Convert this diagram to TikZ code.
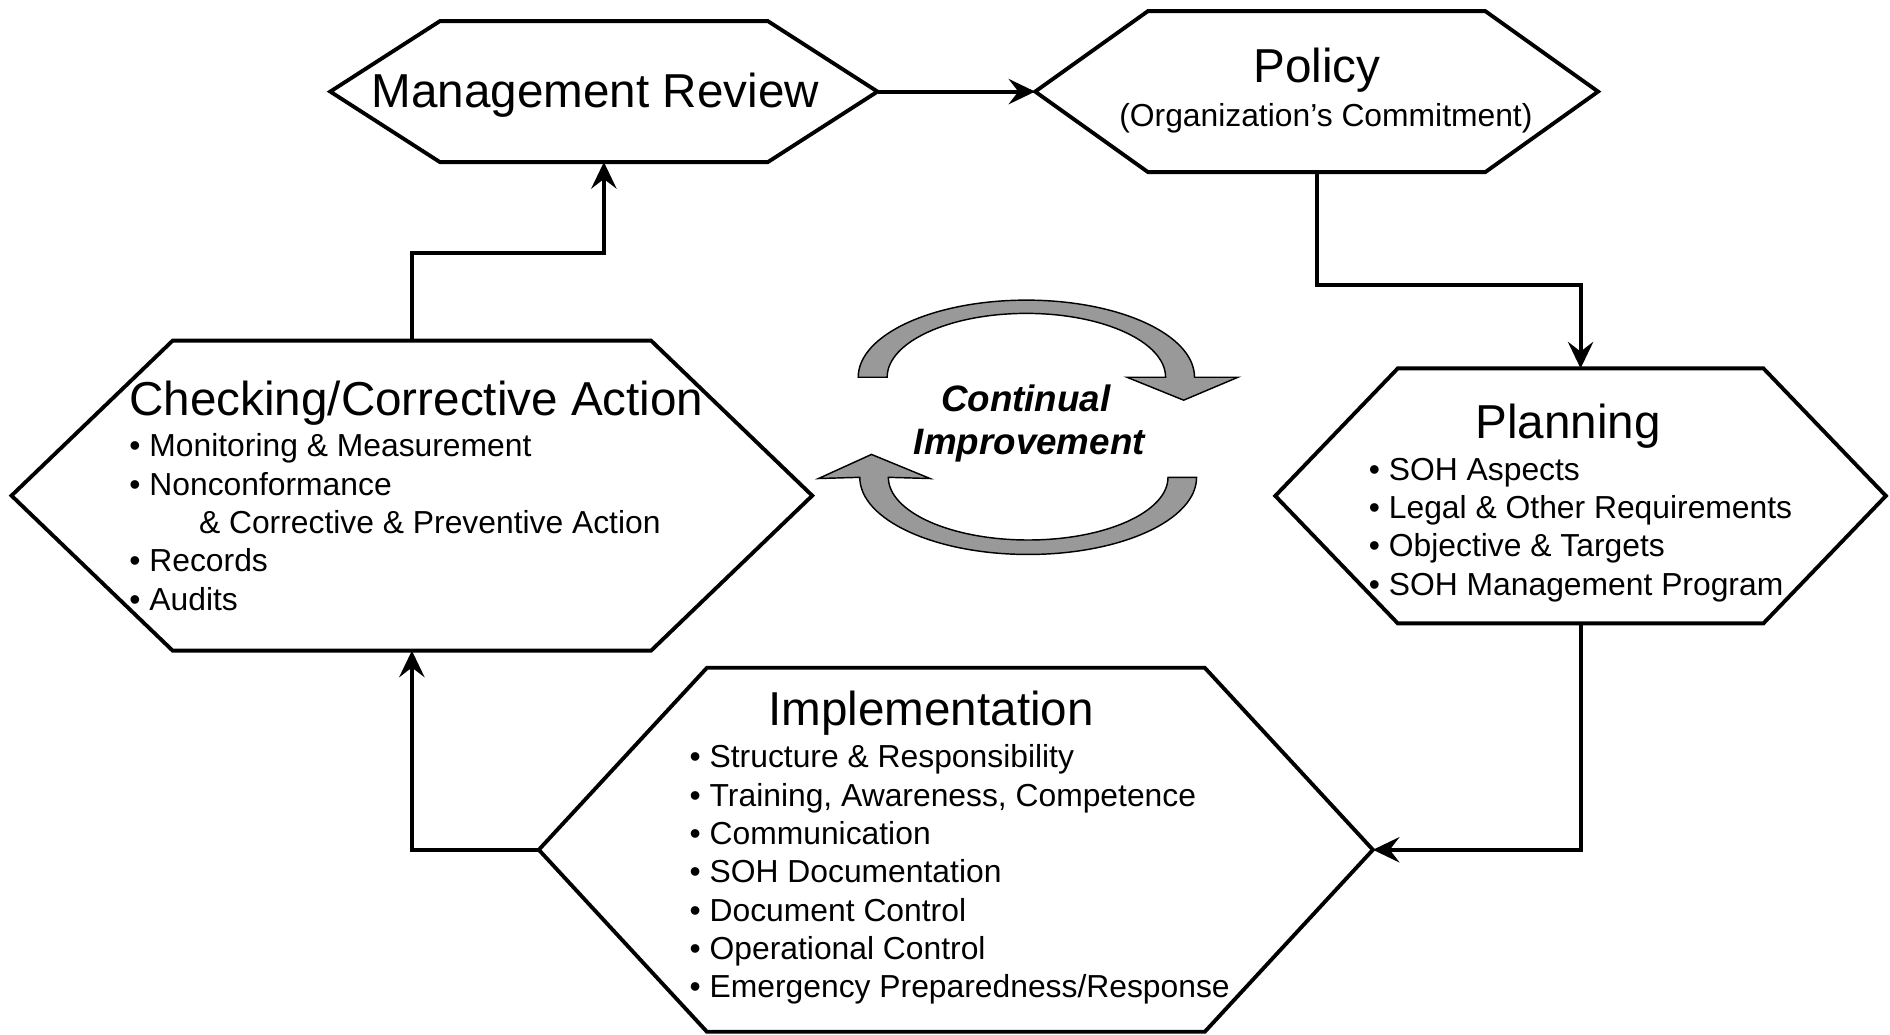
\documentclass[tikz,border=0pt]{standalone}
\usepackage{fontspec}
\setmainfont{Liberation Sans}
\usetikzlibrary{arrows.meta}

\definecolor{cyclegray}{HTML}{999999}

\tikzset{
  hexbox/.style={inner sep=0pt, outer sep=0pt},
  hexline/.style={line width=3.2pt, line join=miter},
  flow/.style={line width=3.2pt, -{Stealth[length=22pt, width=21pt, inset=8pt]}},
  title/.style={font=\fontsize{39.5}{47}\selectfont, anchor=base, inner sep=0pt},
  sub/.style={font=\fontsize{26.4}{31.8}\selectfont, anchor=base, inner sep=0pt},
  item/.style={font=\fontsize{26.4}{31.8}\selectfont, anchor=base west, inner sep=0pt},
  motto/.style={font=\fontsize{30.5}{36}\selectfont\bfseries\itshape, anchor=base, inner sep=0pt},
  cyclearrow/.style={fill=cyclegray, draw=black, line width=1.2pt, line join=miter}
}

% hexagon round a box node: name, corner inset
\newcommand{\hexoutline}[2]{%
  \draw[hexline] (#1.west) -- ([xshift=#2]#1.north west) -- ([xshift=-#2]#1.north east)
    -- (#1.east) -- ([xshift=-#2]#1.south east) -- ([xshift=#2]#1.south west) -- cycle;}

\begin{document}
\begin{tikzpicture}[x=1pt, y=-1pt]
  \fill[white] (0,0) rectangle (1568,858);
  \useasboundingbox (0,0) rectangle (1568,858);

  % the five boxes
  \node[hexbox, minimum width=454pt, minimum height=117pt] (mr) at (501,76) {};
  \node[hexbox, minimum width=467pt, minimum height=133.6pt] (policy) at (1092.3,76) {};
  \node[hexbox, minimum width=506.6pt, minimum height=211.5pt] (planning) at (1311.3,411.4) {};
  \node[hexbox, minimum width=692pt, minimum height=302pt] (impl) at (793,705) {};
  \node[hexbox, minimum width=664.3pt, minimum height=257.2pt] (check) at (341.7,411.2) {};

  \hexoutline{mr}{91pt}
  \hexoutline{policy}{93.6pt}
  \hexoutline{planning}{101.6pt}
  \hexoutline{impl}{139.5pt}
  \hexoutline{check}{133.7pt}

  % texts
  \node[title] (mrtext) at (494,89.5) {Management Review};
  \node[title] (poltitle) at (1092.5,68.5) {Policy};
  \node[sub] (polsub) at (1100,105) {(Organization’s Commitment)};
  \node[title] (plantitle) at (1301,364) {Planning};
  \node[title] (imptitle) at (772.5,601.5) {Implementation};
  \node[title] (chktitle) at (345.5,344.5) {Checking/Corrective Action};

  \foreach \txt [count=\i from 0] in {SOH Aspects, Legal \& Other Requirements,
      Objective \& Targets, SOH Management Program}
    \node[item] (plan\i) at (1135.5,{398.5+31.8*\i}) {\textbullet\ \txt};

  \foreach \txt [count=\i from 0] in {Structure \& Responsibility,
      {Training, Awareness, Competence}, Communication, SOH Documentation,
      Document Control, Operational Control, Emergency Preparedness/Response}
    \node[item] (imp\i) at (572,{637+31.8*\i}) {\textbullet\ \txt};

  \foreach \txt [count=\i from 0] in {\textbullet\ Monitoring \& Measurement,
      \textbullet\ Nonconformance, \hspace*{57.7pt}\& Corrective \& Preventive Action,
      \textbullet\ Records, \textbullet\ Audits}
    \node[item] (chk\i) at (107.2,{379+31.8*\i}) {\txt};

  % connectors
  \draw[flow] (mr.east) -- (policy.west);
  \draw[flow] (policy.south) -- ++(0,94) -| (planning.north);
  \draw[flow] (planning.south) |- (impl.east);
  \draw[flow] (impl.west) -| (check.south);
  \draw[flow] (check.north) -- ++(0,-73) -| (mr.south);

  % continual improvement
  \draw[cyclearrow] (712,313) arc[start angle=180, end angle=0, x radius=139.5pt, y radius=64pt]
    -- (1027,313) -- (982,332) -- (935,313) -- (967,313)
    arc[start angle=0, end angle=180, x radius=115.5pt, y radius=53pt] -- cycle;
  \draw[cyclearrow] (992.7,396) arc[start angle=0, end angle=-180, x radius=139.7pt, y radius=64pt]
    -- (679,397) -- (723,377) -- (771.6,397) -- (737,396)
    arc[start angle=180, end angle=360, x radius=116pt, y radius=52pt] -- cycle;

  \node[motto] (ci1) at (851,341) {Continual};
  \node[motto] (ci2) at (854,377) {Improvement};
\end{tikzpicture}
\end{document}
